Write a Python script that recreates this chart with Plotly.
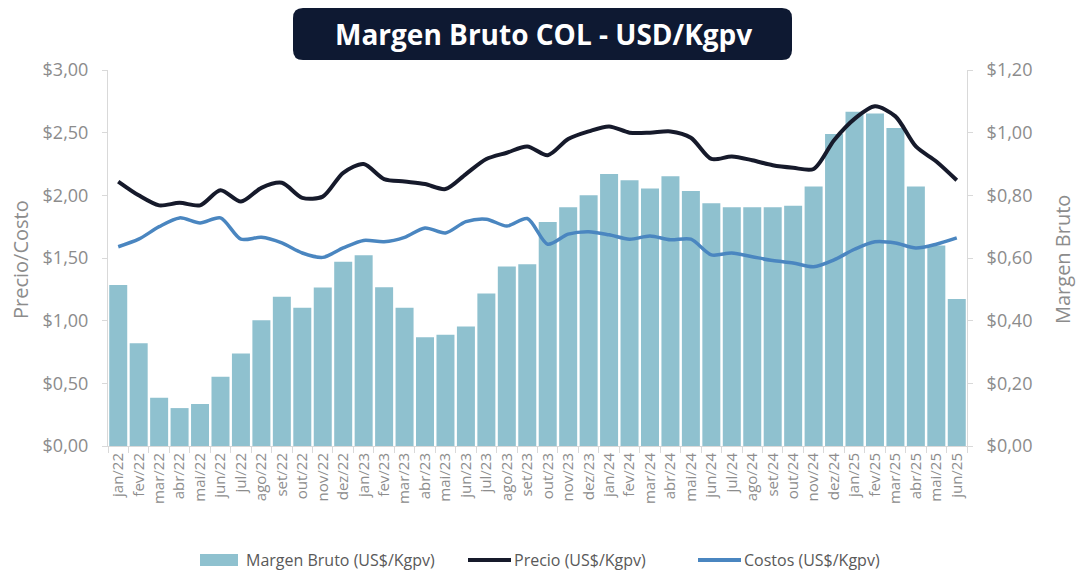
import plotly.graph_objects as go

months = ["jan/22","fev/22","mar/22","abr/22","mai/22","jun/22","jul/22","ago/22","set/22","out/22","nov/22","dez/22",
          "jan/23","fev/23","mar/23","abr/23","mai/23","jun/23","jul/23","ago/23","set/23","out/23","nov/23","dez/23",
          "jan/24","fev/24","mar/24","abr/24","mai/24","jun/24","jul/24","ago/24","set/24","out/24","nov/24","dez/24",
          "jan/25","fev/25","mar/25","abr/25","mai/25","jun/25"]

margen = [0.514,0.328,0.154,0.121,0.134,0.221,0.295,0.401,0.476,0.441,0.506,0.588,
          0.609,0.507,0.441,0.347,0.355,0.381,0.487,0.573,0.580,0.715,0.762,0.800,
          0.868,0.848,0.822,0.861,0.814,0.775,0.762,0.762,0.762,0.767,0.828,0.996,
          1.067,1.061,1.015,0.828,0.640,0.469]

precio = [2.11,2.00,1.92,1.94,1.92,2.04,1.95,2.06,2.10,1.98,1.99,2.18,
          2.25,2.13,2.11,2.09,2.05,2.17,2.29,2.34,2.39,2.32,2.45,2.51,
          2.55,2.50,2.50,2.51,2.46,2.29,2.31,2.28,2.24,2.22,2.21,2.44,
          2.61,2.71,2.63,2.39,2.27,2.12]

costos = [1.59,1.65,1.75,1.82,1.78,1.82,1.65,1.665,1.62,1.54,1.505,1.58,
          1.64,1.63,1.665,1.74,1.70,1.79,1.81,1.755,1.815,1.61,1.69,1.71,
          1.685,1.65,1.675,1.645,1.65,1.525,1.54,1.51,1.48,1.46,1.43,1.485,
          1.57,1.63,1.62,1.58,1.61,1.66]

left_ticks = [0, 0.5, 1.0, 1.5, 2.0, 2.5, 3.0]
right_ticks = [0, 0.2, 0.4, 0.6, 0.8, 1.0, 1.2]

title_text = "Margen Bruto COL - USD/Kgpv"
legend_names = ["Margen Bruto (US$/Kgpv)", "Precio (US$/Kgpv)", "Costos (US$/Kgpv)"]

BAR_C = "#8fc1cf"
PRECIO_C = "#161a2b"
COSTO_C = "#4a86c0"
TICK_C = "#8c8c8c"
AXIS_C = "#d9d9d9"
FONT = "Open Sans"

W, H = 1080, 573
L, R, T, B = 108, 113, 70, 127
PW, PH = W - L - R, H - T - B

def px(x):
    return (x - L) / PW

def py(y):
    return (H - B - y) / PH

fig = go.Figure()
fig.add_trace(go.Bar(x=months, y=margen, name=legend_names[0], marker=dict(color=BAR_C, line=dict(width=0)),
                     yaxis="y", showlegend=False))
fig.add_trace(go.Scatter(x=months, y=precio, name=legend_names[1], mode="lines", yaxis="y2",
                         line=dict(color=PRECIO_C, width=4, shape="spline", smoothing=0.8), showlegend=False))
fig.add_trace(go.Scatter(x=months, y=costos, name=legend_names[2], mode="lines", yaxis="y2",
                         line=dict(color=COSTO_C, width=3.5, shape="spline", smoothing=0.8), showlegend=False))

# title box (rounded rectangle)
x0, x1 = px(293), px(792)
y0, y1 = py(60), py(8)
rx, ry = 10 / PW, 10 / PH
path = (f"M {x0+rx},{y0} L {x1-rx},{y0} Q {x1},{y0} {x1},{y0+ry} L {x1},{y1-ry} Q {x1},{y1} {x1-rx},{y1} "
        f"L {x0+rx},{y1} Q {x0},{y1} {x0},{y1-ry} L {x0},{y0+ry} Q {x0},{y0} {x0+rx},{y0} Z")
shapes = [dict(type="path", path=path, xref="paper", yref="paper", fillcolor="#0e1932", line=dict(width=0), layer="above")]

annotations = [
    dict(text=f"<b>{title_text}</b>", x=px(543), y=py(34), xref="paper", yref="paper", showarrow=False,
         xanchor="center", yanchor="middle", font=dict(family=FONT, size=28, color="white")),
    dict(text="Precio/Costo", x=px(20), y=py(260), xref="paper", yref="paper", showarrow=False, textangle=-90,
         xanchor="center", yanchor="middle", font=dict(family=FONT, size=20, color=TICK_C)),
    dict(text="Margen Bruto", x=px(1062), y=py(260), xref="paper", yref="paper", showarrow=False, textangle=-90,
         xanchor="center", yanchor="middle", font=dict(family=FONT, size=20, color=TICK_C)),
]

# legend (manual)
LEG_Y = 560
ly = py(LEG_Y)
shapes.append(dict(type="rect", xref="paper", yref="paper", x0=px(200), x1=px(238), y0=py(LEG_Y + 6), y1=py(LEG_Y - 6),
                   fillcolor=BAR_C, line=dict(width=0)))
shapes.append(dict(type="line", xref="paper", yref="paper", x0=px(468), x1=px(511), y0=ly, y1=ly,
                   line=dict(color=PRECIO_C, width=4)))
shapes.append(dict(type="line", xref="paper", yref="paper", x0=px(698), x1=px(741), y0=ly, y1=ly,
                   line=dict(color=COSTO_C, width=4)))
for txt, xx in zip(legend_names, [244, 512, 742]):
    annotations.append(dict(text=txt, x=px(xx), y=ly, xref="paper", yref="paper", showarrow=False,
                            xanchor="left", yanchor="middle", font=dict(family=FONT, size=16, color="#595959")))

fig.update_layout(
    width=W, height=H,
    margin=dict(l=L, r=R, t=T, b=B),
    paper_bgcolor="white", plot_bgcolor="white",
    separators=",.",
    bargap=0.12,
    font=dict(family=FONT, color=TICK_C),
    xaxis=dict(type="category", tickangle=-90, tickfont=dict(family=FONT, size=15, color=TICK_C),
               showline=True, linecolor=AXIS_C, linewidth=1, ticks="outside", ticklen=6, tickcolor=AXIS_C,
               tickson="boundaries", showgrid=False, zeroline=False, range=[-0.5, len(months) - 0.5]),
    yaxis=dict(side="right", range=[0, 1.2], tickvals=right_ticks, tickformat="$.2f",
               tickfont=dict(family=FONT, size=18, color=TICK_C), showline=True, linecolor=AXIS_C,
               ticks="outside", ticklen=5, tickcolor=AXIS_C, showgrid=False, zeroline=False, ticklabelstandoff=10),
    yaxis2=dict(side="left", overlaying="y", range=[0, 3], tickvals=left_ticks, tickformat="$.2f",
                tickfont=dict(family=FONT, size=18, color=TICK_C), showline=True, linecolor=AXIS_C,
                ticks="outside", ticklen=5, tickcolor=AXIS_C, showgrid=False, zeroline=False, ticklabelstandoff=10),
    shapes=shapes,
    annotations=annotations,
)

fig.write_html("out.html", config={"displayModeBar": False},
               post_script="document.body.style.margin='0';document.body.style.overflow='hidden';")
